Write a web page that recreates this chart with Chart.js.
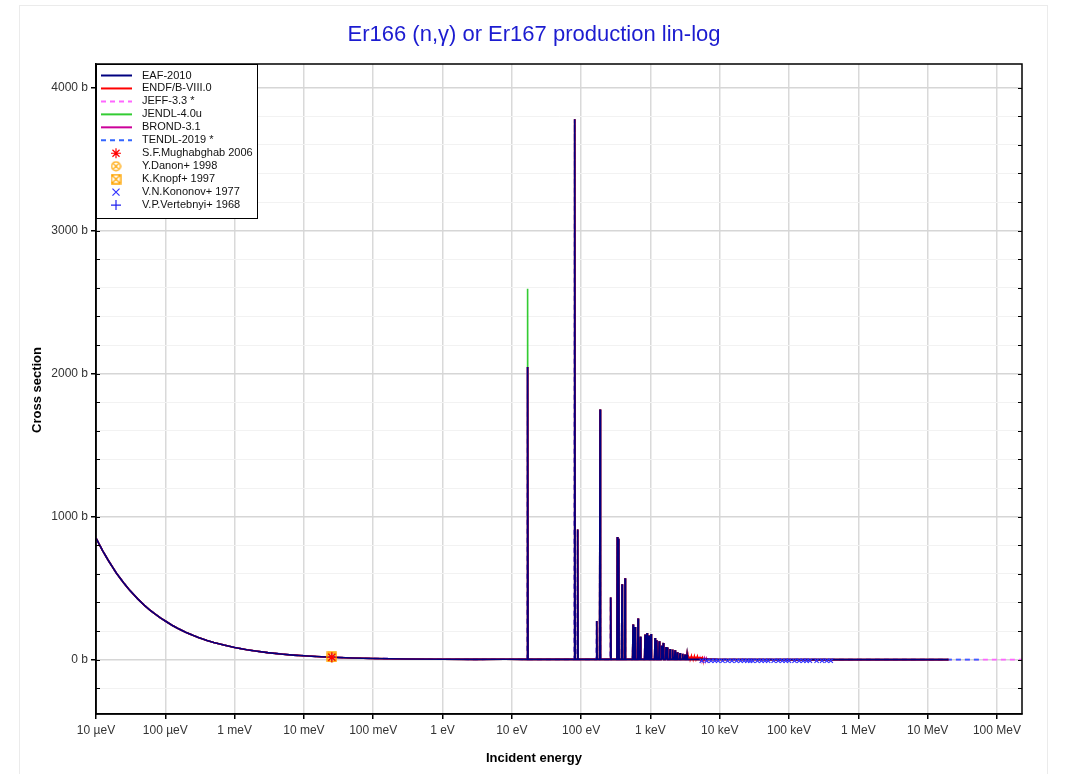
<!DOCTYPE html>
<html>
<head>
  <meta charset="UTF-8">
  <title>Er166 (n,γ) or Er167 production lin-log</title>
  <script src="https://cdn.jsdelivr.net/npm/chart.js"></script>
  <style>
    body { margin: 0; background: #fff; }
    #frame { position: absolute; left: 19px; top: 5px; width: 1027px; height: 800px; border: 1px solid #ebebeb; }
    #wrap { position: absolute; left: 0; top: 0; width: 1067px; height: 774px; }
  </style>
</head>
<body>
<div id="frame"></div>
<div id="wrap"><canvas id="xsChart" width="1067" height="774"></canvas></div>

<script>
  // --- data (energy in eV, cross section in barns) ---

  // smooth 1/v part below the first resonance
  var thermalE  = [1e-5, 1.25e-5, 1.5e-5, 2e-5, 2.5e-5, 3e-5, 4e-5, 5e-5, 6e-5, 7e-5, 8.5e-5, 1e-4, 1.25e-4,
                   1.5e-4, 2e-4, 2.5e-4, 3e-4, 4e-4, 5e-4, 7e-4, 1e-3, 1.5e-3, 2e-3, 3e-3, 5e-3, 7e-3,
                   1e-2, 1.5e-2, 2.53e-2, 5e-2, 0.1, 0.3, 1, 3, 8];
  var thermalXS = [850, 760, 695, 600, 538, 490, 425, 380, 347, 322, 292, 270, 241,
                   220, 190, 170, 155, 134, 120, 102, 85, 69, 60, 49, 38, 32,
                   27, 22, 17, 12, 8.5, 5, 3, 2, 3];

  // resolved resonances: peak energies and peak heights
  var resE = [16.9, 80.8, 89.2, 168, 187.5, 267, 333, 349, 389, 430, 561, 600, 662, 716, 836, 893, 955,
              1020, 1165, 1235, 1340, 1450, 1535, 1680, 1750, 1920, 2095, 2265, 2445, 2675, 2925, 3155, 3380];
  var resEAF = [2047, 3778, 910, 270, 1750, 435, 858, 845, 528, 570, 245, 228, 288, 160, 175, 187, 168,
                180, 152, 135, 128, 98, 117, 89, 85, 75, 70, 65, 51, 47, 40, 35, 33];
  var resJENDL = [2594, 3778, 910, 270, 1750, 435, 858, 845, 528, 570, 245, 228, 288, 160, 175, 187, 168,
                  180, 152, 135, 128, 98, 117, 89, 85, 75, 70, 65, 51, 47, 40, 35, 33];
  var resBaseXS = 2;

  // extra small resonances seen only in ENDF/B-VIII.0 and BROND-3.1
  var endfExtraE  = [3500, 3700, 3900, 4100, 4300, 4500, 4750, 5000, 5300, 5600];
  var endfExtraXS = [24, 22, 25, 21, 23, 20, 22, 19, 18, 15];
  var brondExtraE  = [5200, 5600, 6000, 6400];
  var brondExtraXS = [12, 11, 12, 10];

  // fast region
  var tailE  = [7000, 1e4, 3e4, 1e5, 3e5, 1e6, 3e6, 1e7, 2e7, 6e7, 2.3e8];
  var tailXS = [1.8, 1.4, 0.8, 0.4, 0.2, 0.1, 0.01, 0.002, 0.001, 0.0008, 0.0005];

  // measurements
  var mughE = [0.0253],  mughXS = [16.9];
  var danonE = [0.0253], danonXS = [18];
  var knopfE = [0.0253], knopfXS = [19];
  var vertE = [0.0253],  vertXS = [17];
  var kononovE = [5500, 6500, 7500, 8500, 9500, 11000, 13000, 15000, 17500, 20000, 22500, 25000, 27500, 30000,
                  35000, 40000, 45000, 50000, 60000, 70000, 80000, 90000, 100000, 120000, 140000, 160000,
                  180000, 200000, 250000, 300000, 350000, 400000];
  var kononovXS = [-8, -8, -8, -8, -8, -8, -8, -8, -8, -8, -8, -8, -8, -8, -8, -8, -8, -8, -8, -8, -8, -8,
                   -8, -8, -8, -8, -8, -8, -8, -8, -8, -8];

  // axis ticks
  var xTickValues = [1e-5, 1e-4, 1e-3, 1e-2, 1e-1, 1, 10, 100, 1e3, 1e4, 1e5, 1e6, 1e7, 1e8];
  var xTickLabels = ['10 µeV', '100 µeV', '1 meV', '10 meV', '100 meV', '1 eV', '10 eV', '100 eV',
                     '1 keV', '10 keV', '100 keV', '1 MeV', '10 MeV', '100 MeV'];
  var yTickValues = [-200, 0, 200, 400, 600, 800, 1000, 1200, 1400, 1600, 1800, 2000, 2200, 2400, 2600,
                     2800, 3000, 3200, 3400, 3600, 3800, 4000];

  // --- helpers ---
  function pairs(xs, ys) {
    var out = [];
    for (var i = 0; i < xs.length; i++) out.push({x: xs[i], y: ys[i]});
    return out;
  }

  // one evaluated curve: thermal part, narrow spikes at each resonance, fast tail up to endE
  function buildCurve(peaks, endE, extraE, extraXS) {
    var pts = pairs(thermalE, thermalXS);
    for (var i = 0; i < resE.length; i++) {
      pts.push({x: resE[i] * 0.985, y: resBaseXS});
      pts.push({x: resE[i], y: peaks[i]});
      pts.push({x: resE[i] * 1.015, y: resBaseXS});
    }
    if (extraE) {
      for (var j = 0; j < extraE.length; j++) {
        pts.push({x: extraE[j] * 0.985, y: resBaseXS});
        pts.push({x: extraE[j], y: extraXS[j]});
        pts.push({x: extraE[j] * 1.015, y: resBaseXS});
      }
    }
    for (var k = 0; k < tailE.length; k++) {
      if (tailE[k] <= endE) pts.push({x: tailE[k], y: tailXS[k]});
    }
    pts.sort(function(a, b) { return a.x - b.x; });
    return pts;
  }

  function makeMarker(kind, color) {
    var c = document.createElement('canvas');
    c.width = 11; c.height = 11;
    var g = c.getContext('2d');
    g.strokeStyle = color;
    g.lineWidth = 1.3;
    g.beginPath();
    if (kind === 'circle') {
      g.arc(5.5, 5.5, 4.4, 0, Math.PI * 2);
      g.moveTo(2.4, 2.4); g.lineTo(8.6, 8.6);
      g.moveTo(8.6, 2.4); g.lineTo(2.4, 8.6);
    } else {
      g.rect(1, 1, 9, 9);
      g.moveTo(1, 1); g.lineTo(10, 10);
      g.moveTo(10, 1); g.lineTo(1, 10);
    }
    g.stroke();
    return c;
  }

  function lineSet(label, data, color, order, dash) {
    return {
      label: label, data: data, showLine: true, borderColor: color, backgroundColor: color,
      borderWidth: 1.6, pointRadius: 0, borderDash: dash || [], tension: 0, order: order
    };
  }

  function pointSet(label, data, style, color, radius) {
    return {
      label: label, data: data, showLine: false, pointStyle: style, pointRadius: radius,
      borderColor: color, backgroundColor: color, pointBorderWidth: 1.2, order: -1
    };
  }

  var orange = '#ffa500';

  var decor = {
    id: 'decor',
    afterDraw: function(chart) {
      var ctx = chart.ctx;
      var a = chart.chartArea;
      var ys = chart.scales.y;
      ctx.save();

      // frame round the plot
      ctx.strokeStyle = '#000';
      ctx.lineWidth = 1.5;
      ctx.strokeRect(a.left, a.top, a.right - a.left, a.bottom - a.top);

      // small inward ticks on both y edges
      ctx.lineWidth = 1;
      yTickValues.forEach(function(v) {
        var py = Math.round(ys.getPixelForValue(v)) + 0.5;
        ctx.beginPath();
        ctx.moveTo(a.left, py); ctx.lineTo(a.left + 4, py);
        ctx.moveTo(a.right, py); ctx.lineTo(a.right - 4, py);
        ctx.stroke();
      });

      // title and axis titles
      ctx.fillStyle = '#1c1cd0';
      ctx.font = '22px Arial, "Liberation Sans", sans-serif';
      ctx.textAlign = 'center';
      ctx.textBaseline = 'middle';
      ctx.fillText('Er166 (n,γ) or Er167 production lin-log', 534, 35);

      ctx.fillStyle = '#000';
      ctx.font = 'bold 13px Arial, "Liberation Sans", sans-serif';
      ctx.fillText('Incident energy', 534, 758);
      ctx.save();
      ctx.translate(37, 390);
      ctx.rotate(-Math.PI / 2);
      ctx.fillText('Cross section', 0, 0);
      ctx.restore();

      // legend box
      var lx = 96, ly = 64, lw = 161, lh = 154;
      ctx.fillStyle = '#fff';
      ctx.fillRect(lx, ly, lw, lh);
      ctx.strokeStyle = '#000';
      ctx.lineWidth = 1;
      ctx.strokeRect(lx + 0.5, ly + 0.5, lw, lh);

      ctx.font = '11px Arial, "Liberation Sans", sans-serif';
      ctx.textAlign = 'left';
      chart.data.datasets.forEach(function(ds, i) {
        var y = 75.5 + i * 12.96;
        if (ds.showLine) {
          ctx.save();
          ctx.strokeStyle = ds.borderColor;
          ctx.lineWidth = 2;
          ctx.setLineDash(ds.borderDash.length ? [5, 4] : []);
          ctx.beginPath();
          ctx.moveTo(101, y); ctx.lineTo(132, y);
          ctx.stroke();
          ctx.restore();
        } else {
          ctx.save();
          ctx.strokeStyle = ds.borderColor;
          ctx.fillStyle = ds.backgroundColor;
          ctx.lineWidth = 1.2;
          Chart.helpers.drawPoint(ctx, {pointStyle: ds.pointStyle, radius: 5, borderWidth: 1.2, rotation: 0}, 116, y);
          ctx.restore();
        }
        ctx.fillStyle = '#111';
        ctx.fillText(ds.label, 142, y);
      });
      ctx.restore();
    }
  };

  var ctx = document.getElementById('xsChart').getContext('2d');

  var xsChart = new Chart(ctx, {
    type: 'scatter',
    data: {
      datasets: [
        lineSet('EAF-2010', buildCurve(resEAF, 2e7), '#000080', 0),
        lineSet('ENDF/B-VIII.0', buildCurve(resEAF, 2e7, endfExtraE, endfExtraXS), '#ff0000', 1),
        lineSet('JEFF-3.3 *', buildCurve(resEAF, 2.3e8), '#ff66ff', 5, [5, 4]),
        lineSet('JENDL-4.0u', buildCurve(resJENDL, 2e7), '#33cc33', 3),
        lineSet('BROND-3.1', buildCurve(resEAF, 2e7, brondExtraE, brondExtraXS), '#cc0099', 2),
        lineSet('TENDL-2019 *', buildCurve(resEAF, 6e7), '#3366ff', 4, [5, 4]),
        pointSet('S.F.Mughabghab 2006', pairs(mughE, mughXS), 'star', '#ff0000', 5),
        pointSet('Y.Danon+ 1998', pairs(danonE, danonXS), makeMarker('circle', orange), orange, 5),
        pointSet('K.Knopf+ 1997', pairs(knopfE, knopfXS), makeMarker('square', orange), orange, 5),
        pointSet('V.N.Kononov+ 1977', pairs(kononovE, kononovXS), 'crossRot', '#3333ff', 3),
        pointSet('V.P.Vertebnyi+ 1968', pairs(vertE, vertXS), 'cross', '#2222ee', 5)
      ]
    },
    options: {
      responsive: false,
      animation: false,
      layout: { padding: { left: 0, right: 45, top: 64, bottom: 0 } },
      plugins: {
        legend: { display: false },
        title: { display: false },
        tooltip: { enabled: false }
      },
      scales: {
        x: {
          type: 'logarithmic',
          min: 1e-5,
          max: 2.3e8,
          afterBuildTicks: function(scale) {
            scale.ticks = xTickValues.map(function(v) { return {value: v}; });
          },
          afterFit: function(scale) { scale.height = 60; },
          ticks: {
            autoSkip: false,
            maxRotation: 0,
            padding: 4,
            color: '#333',
            font: { family: 'Arial, "Liberation Sans", sans-serif', size: 12 },
            callback: function(value, index) { return xTickLabels[index]; }
          },
          grid: { color: '#d9d9d9', lineWidth: 1.5, tickLength: 5, tickColor: '#000' },
          border: { color: '#000', width: 1.5 }
        },
        y: {
          min: -380,
          max: 4165,
          afterBuildTicks: function(scale) {
            scale.ticks = yTickValues.map(function(v) { return {value: v}; });
          },
          afterFit: function(scale) { scale.width = 96; },
          ticks: {
            autoSkip: false,
            padding: 3,
            color: '#333',
            font: { family: 'Arial, "Liberation Sans", sans-serif', size: 12 },
            callback: function(value) { return value % 1000 === 0 ? value + ' b' : ''; }
          },
          grid: {
            color: function(c) { return c.tick && c.tick.value % 1000 === 0 ? '#d6d6d6' : '#f2f2f2'; },
            lineWidth: function(c) { return c.tick && c.tick.value % 1000 === 0 ? 1.5 : 1; },
            tickLength: 5,
            tickColor: function(c) { return c.tick && c.tick.value % 1000 === 0 ? '#000' : 'rgba(0,0,0,0)'; }
          },
          border: { color: '#000', width: 1.5 }
        }
      }
    },
    plugins: [decor]
  });
</script>
</body>
</html>
